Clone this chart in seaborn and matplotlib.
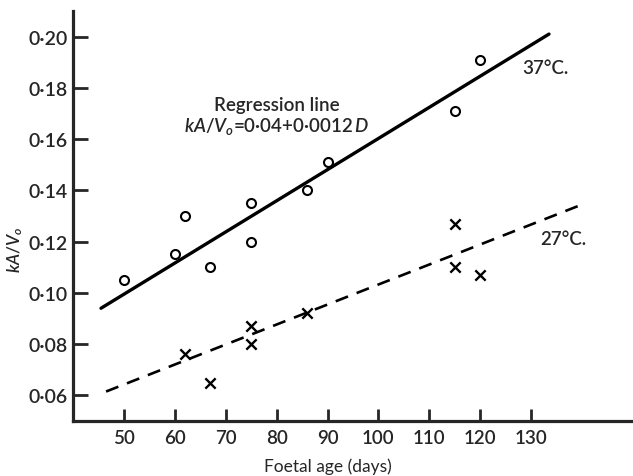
import matplotlib
matplotlib.use('Agg')
import matplotlib.pyplot as plt
import seaborn as sns
import pandas as pd

# data
age_37 = [50, 60, 62, 67, 75, 75, 86, 90, 115, 120]
ka_37 = [0.105, 0.115, 0.130, 0.110, 0.120, 0.135, 0.140, 0.151, 0.171, 0.191]

age_27 = [62, 67, 75, 75, 86, 115, 115, 120]
ka_27 = [0.076, 0.065, 0.087, 0.080, 0.092, 0.127, 0.110, 0.107]

# fitted lines (end points as drawn)
line37_x = [45.5, 133.5]
line37_y = [0.094, 0.201]
line27_x = [46.5, 140.0]
line27_y = [0.0615, 0.1345]

x_ticks = [50, 60, 70, 80, 90, 100, 110, 120, 130]
y_ticks = [0.06, 0.08, 0.10, 0.12, 0.14, 0.16, 0.18, 0.20]
y_ticklabels = ['0·06', '0·08', '0·10', '0·12', '0·14', '0·16', '0·18', '0·20']

df37 = pd.DataFrame({'age': age_37, 'ka': ka_37})
df27 = pd.DataFrame({'age': age_27, 'ka': ka_27})
l37 = pd.DataFrame({'age': line37_x, 'ka': line37_y})
l27 = pd.DataFrame({'age': line27_x, 'ka': line27_y})

sns.set_style('ticks')
plt.rcParams['font.family'] = ['Lato', 'DejaVu Sans']
plt.rcParams['font.weight'] = 'semibold'
plt.rcParams['mathtext.fontset'] = 'custom'
plt.rcParams['mathtext.rm'] = 'Lato:semibold'
plt.rcParams['mathtext.it'] = 'Lato:italic:semibold'

fig = plt.figure(figsize=(6.33, 4.77), dpi=100)
ax = fig.add_axes([0.1153, 0.1153, 0.8847, 0.8595])

sns.lineplot(data=l37, x='age', y='ka', ax=ax, color='black', lw=2.4)
sns.lineplot(data=l27, x='age', y='ka', ax=ax, color='black', lw=1.9)
ax.lines[-1].set_dashes([5, 3.5])
sns.scatterplot(data=df37, x='age', y='ka', ax=ax, marker='o', s=42,
                facecolor='white', edgecolor='black', linewidth=1.5, zorder=3)
sns.scatterplot(data=df27, x='age', y='ka', ax=ax, marker='x', s=55,
                color='black', linewidth=1.7, zorder=3)

ax.set_xlim(40, 150)
ax.set_ylim(0.05, 0.21)
ax.set_xticks(x_ticks)
ax.set_yticks(y_ticks)
ax.set_yticklabels(y_ticklabels)
ax.tick_params(axis='y', direction='in', length=11, width=2, labelsize=14, pad=4)
ax.tick_params(axis='x', direction='in', length=9, width=2, labelsize=13.5, pad=6)
for s in ['top', 'right']:
    ax.spines[s].set_visible(False)
for s in ['left', 'bottom']:
    ax.spines[s].set_linewidth(2.3)

ax.set_xlabel('Foetal age (days)', fontsize=12.5)
ax.set_ylabel('$kA/V_o$', fontsize=12.5)
ax.xaxis.set_label_coords(0.455, -0.09)
ax.yaxis.set_label_coords(-0.085, 0.42)

ax.text(80, 0.1735, 'Regression line', fontsize=13.5, ha='center', va='center')
ax.text(80, 0.1653, '$kA/V_o$=0·04+0·0012$\\,D$', fontsize=13.5, ha='center', va='center')
ax.text(128.2, 0.1878, '37°C.', fontsize=13.5, ha='left', va='center')
ax.text(131.7, 0.1212, '27°C.', fontsize=13.5, ha='left', va='center')

fig.savefig('out.png', dpi=100)
